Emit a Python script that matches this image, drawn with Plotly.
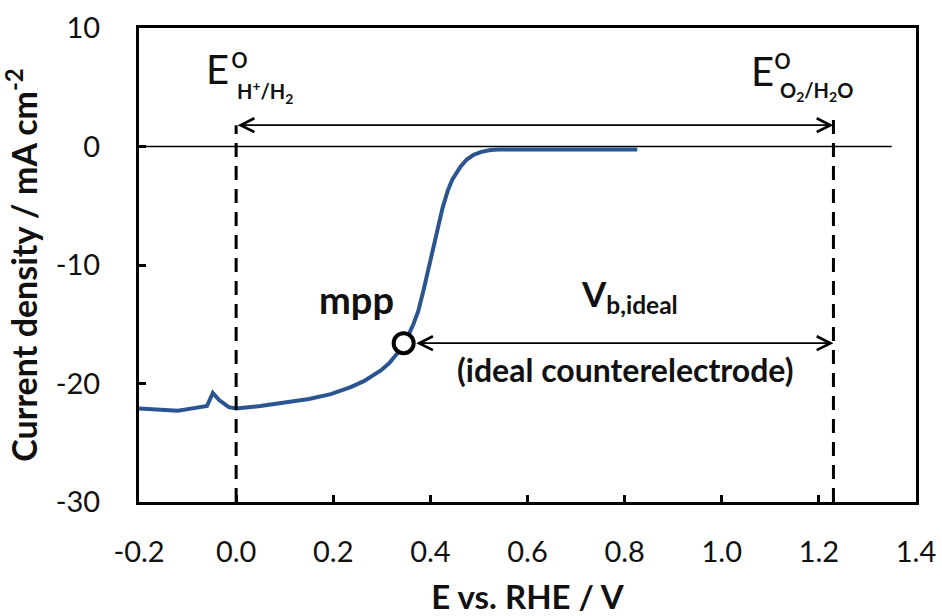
import plotly.graph_objects as go

# Photocurrent–potential scan (E vs. RHE in V, current density in mA cm^-2)
potential = [-0.200, -0.160, -0.120, -0.090, -0.060, -0.048, -0.035, -0.015, 0.000,
             0.050, 0.100, 0.150, 0.195, 0.236, 0.263, 0.280, 0.298, 0.315, 0.333,
             0.345, 0.355, 0.365, 0.375, 0.386, 0.393, 0.401, 0.408, 0.415, 0.425,
             0.436, 0.445, 0.462, 0.475, 0.489, 0.505, 0.524, 0.540, 0.600, 0.700,
             0.826]
current = [-22.1, -22.2, -22.3, -22.1, -21.9, -20.8, -21.4, -22.0, -22.1,
           -21.9, -21.6, -21.3, -20.9, -20.3, -19.8, -19.4, -18.9, -18.3, -17.4,
           -16.6, -15.9, -15.0, -13.9, -12.1, -10.8, -9.3, -8.0, -6.8, -5.2,
           -3.7, -2.8, -1.7, -1.1, -0.7, -0.45, -0.3, -0.25, -0.25, -0.25,
           -0.25]

# maximum power point on the curve
mpp_potential = 0.345
mpp_current = -16.6

# standard potentials of the two half reactions (V vs. RHE)
E_H2 = 0.0
E_O2 = 1.23

x_ticks = [-0.2, 0.0, 0.2, 0.4, 0.6, 0.8, 1.0, 1.2, 1.4]
y_ticks = [-30, -20, -10, 0, 10]
x_ticklabels = [f"{v:.1f}" for v in x_ticks]
y_ticklabels = [str(v) for v in y_ticks]

FONT = "Lato"
TXT = "#111111"
CURVE = "#2b5590"

fig = go.Figure()

fig.add_trace(go.Scatter(
    x=potential, y=current, mode="lines",
    line=dict(color=CURVE, width=4), hoverinfo="skip", showlegend=False))

fig.add_trace(go.Scatter(
    x=[mpp_potential], y=[mpp_current], mode="markers",
    marker=dict(symbol="circle", size=20, color="white",
                line=dict(color="black", width=4)),
    hoverinfo="skip", showlegend=False))

# zero-current baseline
fig.add_shape(type="line", xref="x", yref="y", x0=-0.2, x1=1.35, y0=0, y1=0,
              line=dict(color="black", width=1.5), layer="below")

# dashed markers at the two standard potentials
arrow_level = 1.8
for e, top in ((E_H2, arrow_level), (E_O2, 2.6)):
    fig.add_shape(type="line", xref="x", yref="y", x0=e, x1=e, y0=-30, y1=top,
                  line=dict(color="black", width=3, dash="14px,9px"))

arrow_style = dict(xref="x", yref="y", axref="x", ayref="y", text="",
                   showarrow=True, arrowhead=5, startarrowhead=5,
                   arrowside="end+start", arrowwidth=1.8, arrowsize=1.5,
                   startarrowsize=1.5, arrowcolor="black", standoff=0)

# thermodynamic window 0 V -> 1.23 V
fig.add_annotation(x=E_O2, y=arrow_level, ax=E_H2, ay=arrow_level,
                   startstandoff=0, **arrow_style)
# ideal bias from mpp to 1.23 V
fig.add_annotation(x=E_O2, y=mpp_current, ax=mpp_potential, ay=mpp_current,
                   startstandoff=11, **arrow_style)

def label(x, y, text, size, bold=False, **kw):
    fig.add_annotation(x=x, y=y, xref="x", yref="y", text=text, showarrow=False,
                       font=dict(family=FONT, size=size, color=TXT,
                                 weight="bold" if bold else "normal"), **kw)

label(0.247, -12.9, "mpp", 38, bold=True)
label(0.81, -12.6, "V<sub>b,ideal</sub>", 35, bold=True)
label(0.80, -18.8, "(ideal counterelectrode)", 32, bold=True)

# E° labels with the degree sign stacked over the subscript
label(-0.039, 6.5, "E", 40)
label(0.007, 7.3, "o", 30, yanchor="bottom", yshift=-16)
label(0.06, 4.6, "H<sup>+</sup>/H<sub>2</sub>", 20, bold=True)

label(1.083, 6.4, "E", 40)
label(1.125, 7.2, "o", 30, yanchor="bottom", yshift=-16)
label(1.196, 4.6, "O<sub>2</sub>/H<sub>2</sub>O", 20, bold=True)

axis_common = dict(
    showline=True, linewidth=3, linecolor="black", mirror=True,
    ticks="inside", ticklen=7, tickwidth=3, tickcolor="black",
    showgrid=False, zeroline=False,
    tickfont=dict(family=FONT, size=29, color=TXT),
)

fig.update_xaxes(range=[-0.2, 1.4], tickvals=x_ticks, ticktext=x_ticklabels,
                 ticklabelstandoff=22,
                 title=dict(text="E vs. RHE / V", standoff=22,
                            font=dict(family=FONT, size=33, color=TXT, weight="bold")),
                 **axis_common)
fig.update_yaxes(range=[-30, 10], tickvals=y_ticks, ticktext=y_ticklabels,
                 ticklabelstandoff=30,
                 title=dict(text="Current density / mA cm<sup>-2</sup>", standoff=8,
                            font=dict(family=FONT, size=34, color=TXT, weight="bold")),
                 **axis_common)

fig.update_layout(
    width=942, height=616,
    margin=dict(l=139, r=26, t=28, b=114, autoexpand=False),
    paper_bgcolor="white", plot_bgcolor="white",
    showlegend=False,
)

fig.write_html("out.html")
